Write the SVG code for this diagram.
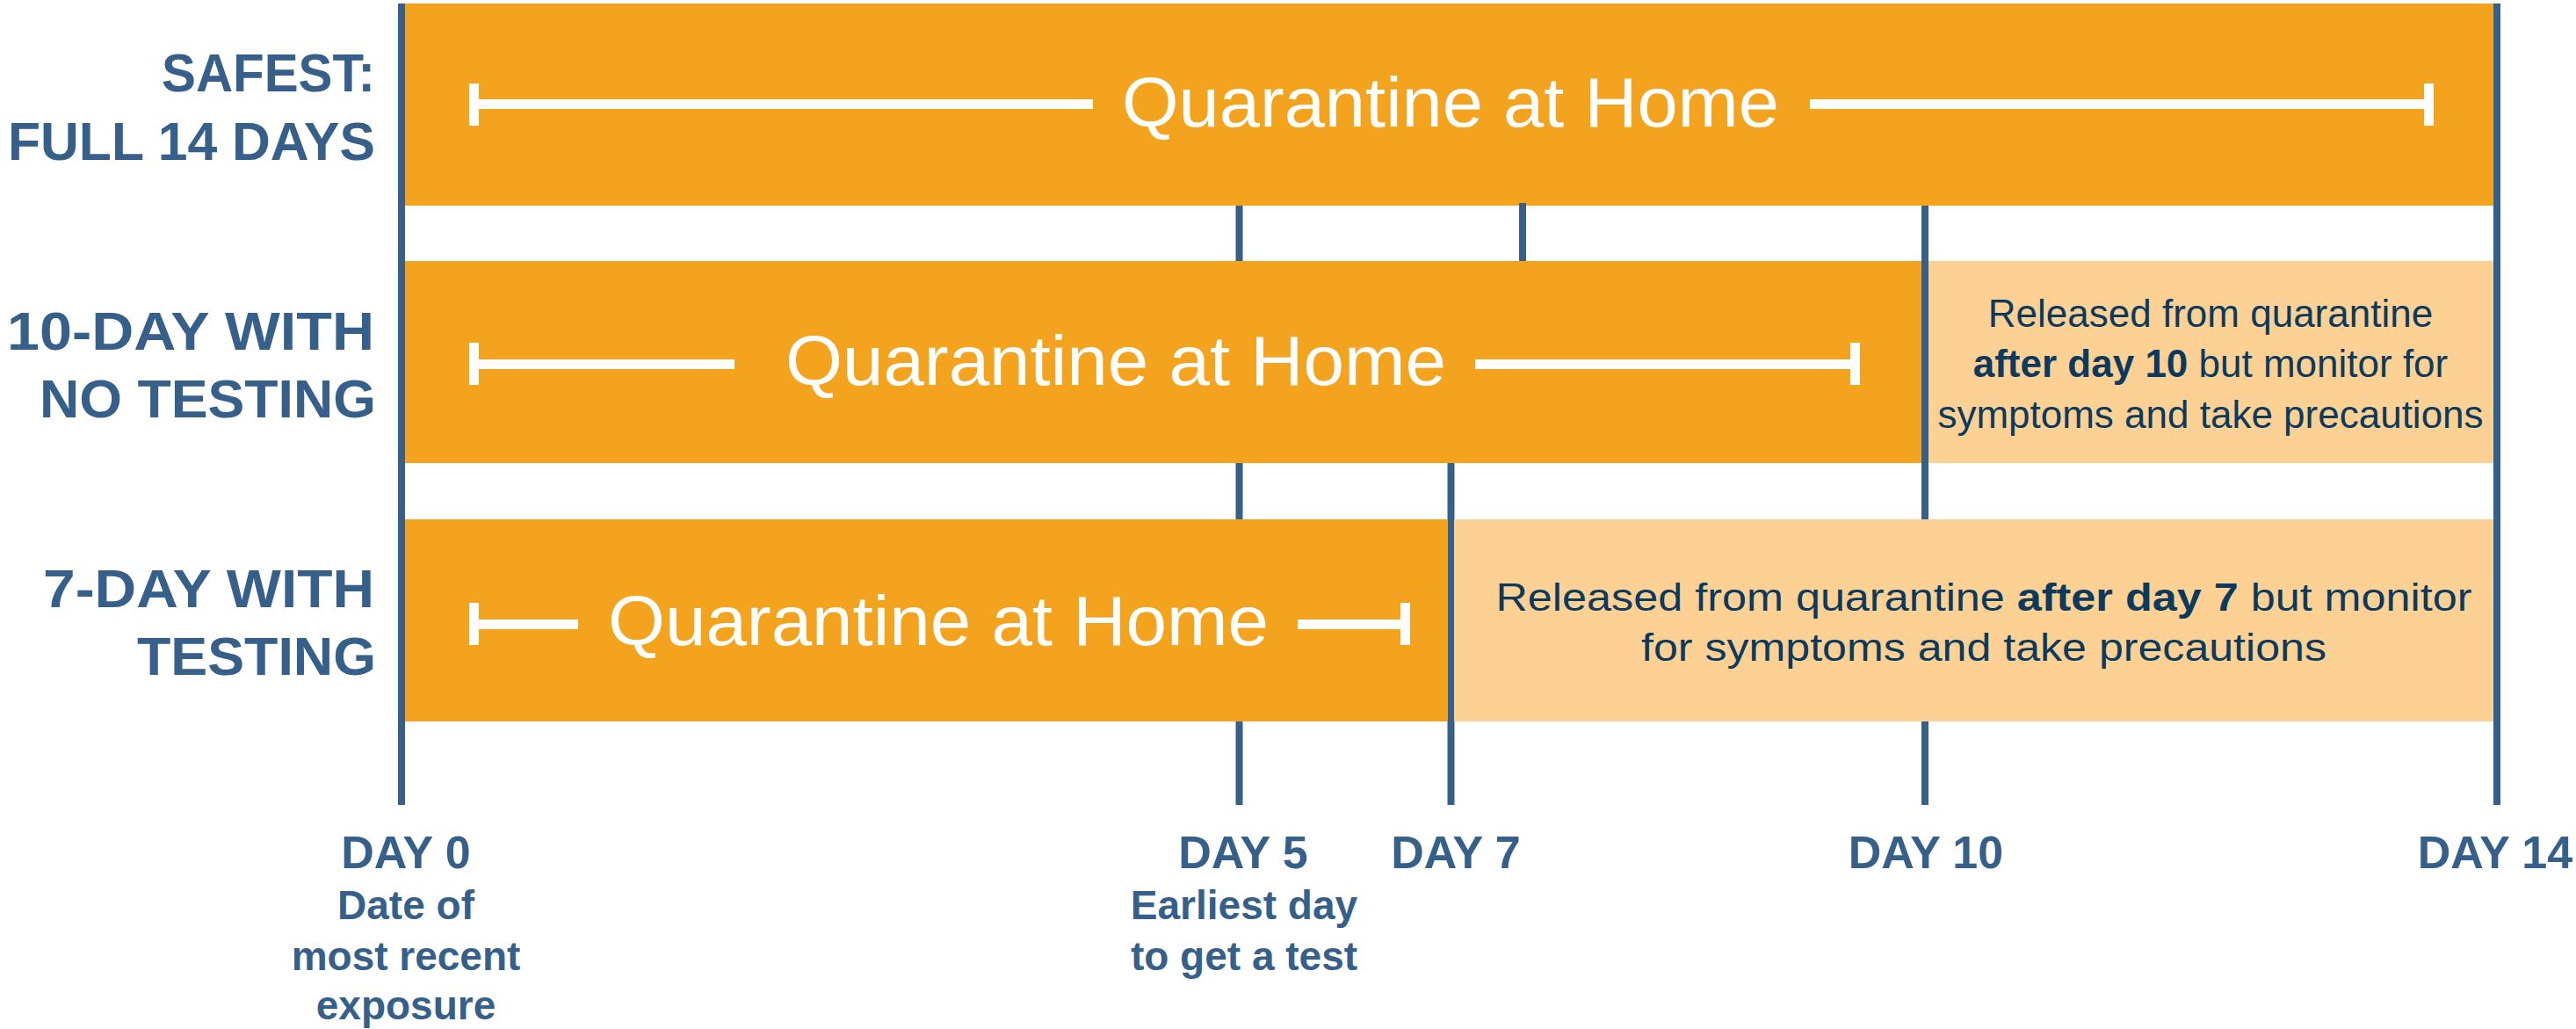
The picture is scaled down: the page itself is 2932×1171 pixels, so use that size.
<svg xmlns="http://www.w3.org/2000/svg" width="2932" height="1171" viewBox="0 0 2932 1171">
<style>
.bg{fill:#ffffff}
.q{fill:#F4A31F}
.lt{fill:#FDD093}
.ax{stroke:#365F8A;stroke-width:8;fill:none}
.br{fill:#ffffff}
.rowlbl{font-family:"Liberation Sans",Arial,sans-serif;font-weight:bold;font-size:62px;fill:#365F8A;text-anchor:end}
.qt{font-family:"Liberation Sans",Arial,sans-serif;font-size:80px;fill:#ffffff}
.rel{font-family:"Liberation Sans",Arial,sans-serif;font-size:44px;fill:#0B3A5E;text-anchor:middle}
.rel .b{font-weight:bold}
.day{font-family:"Liberation Sans",Arial,sans-serif;font-weight:bold;font-size:52px;fill:#365F8A;text-anchor:middle}
.sub{font-family:"Liberation Sans",Arial,sans-serif;font-weight:bold;font-size:46px;fill:#365F8A;text-anchor:middle}
</style>
<rect class="bg" x="0" y="0" width="2932" height="1171"/>

<g id="connectors">
  <line class="ax" x1="457" y1="4" x2="457" y2="916"/>
  <line class="ax" x1="1410.5" y1="234" x2="1410.5" y2="916"/>
  <line class="ax" x1="1651.5" y1="527" x2="1651.5" y2="916"/>
  <line class="ax" x1="2191" y1="234" x2="2191" y2="916"/>
  <line class="ax" x1="2842" y1="4" x2="2842" y2="916"/>
</g>

<g id="row-labels">
  <text class="rowlbl" x="427" y="104" textLength="243" lengthAdjust="spacingAndGlyphs">SAFEST:</text>
  <text class="rowlbl" x="427" y="182" textLength="418" lengthAdjust="spacingAndGlyphs">FULL 14 DAYS</text>
  <text class="rowlbl" x="426" y="398" textLength="418" lengthAdjust="spacingAndGlyphs">10-DAY WITH</text>
  <text class="rowlbl" x="428" y="475" textLength="383" lengthAdjust="spacingAndGlyphs">NO TESTING</text>
  <text class="rowlbl" x="426" y="691" textLength="377" lengthAdjust="spacingAndGlyphs">7-DAY WITH</text>
  <text class="rowlbl" x="428" y="768" textLength="272" lengthAdjust="spacingAndGlyphs">TESTING</text>
</g>

<g id="row-14day">
  <rect class="q" x="461" y="4" width="2377" height="230"/>
  <rect class="br" x="534" y="95" width="11" height="48"/>
  <rect class="br" x="545" y="113" width="699" height="11"/>
  <rect class="br" x="2060" y="113" width="700" height="11"/>
  <rect class="br" x="2759" y="95" width="11" height="48"/>
  <text class="qt" x="1277" y="144" textLength="748" lengthAdjust="spacingAndGlyphs">Quarantine at Home</text>
</g>

<g id="row-10day">
  <rect class="q" x="461" y="297" width="1726" height="230"/>
  <rect class="lt" x="2195" y="297" width="643" height="230"/>
  <rect class="br" x="534" y="390" width="11" height="48"/>
  <rect class="br" x="545" y="409" width="291" height="11"/>
  <rect class="br" x="1679" y="409" width="428" height="11"/>
  <rect class="br" x="2106" y="390" width="11" height="48"/>
  <text class="qt" x="894" y="438" textLength="752" lengthAdjust="spacingAndGlyphs">Quarantine at Home</text>
  <text class="rel" x="2516" y="372">Released from quarantine</text>
  <text class="rel" x="2516" y="429"><tspan class="b">after day 10</tspan> but monitor for</text>
  <text class="rel" x="2516" y="487">symptoms and take precautions</text>
</g>

<g id="row-7day">
  <rect class="q" x="461" y="591" width="1187" height="230"/>
  <rect class="lt" x="1655" y="591" width="1183" height="230"/>
  <rect class="br" x="534" y="686" width="11" height="48"/>
  <rect class="br" x="545" y="705" width="113" height="11"/>
  <rect class="br" x="1477" y="705" width="118" height="11"/>
  <rect class="br" x="1594" y="686" width="11" height="48"/>
  <text class="qt" x="692" y="734" textLength="752" lengthAdjust="spacingAndGlyphs">Quarantine at Home</text>
  <text class="rel" x="2258" y="695" textLength="1111" lengthAdjust="spacingAndGlyphs">Released from quarantine <tspan class="b">after day 7</tspan> but monitor</text>
  <text class="rel" x="2258" y="752" textLength="780" lengthAdjust="spacingAndGlyphs">for symptoms and take precautions</text>
</g>

<g id="gap-tick">
  <line class="ax" x1="1733" y1="231" x2="1733" y2="297"/>
</g>

<g id="day0">
  <text class="day" x="462" y="988">DAY 0</text>
  <text class="sub" x="462" y="1046">Date of</text>
  <text class="sub" x="462" y="1104">most recent</text>
  <text class="sub" x="462" y="1160">exposure</text>
</g>
<g id="day5">
  <text class="day" x="1415" y="988">DAY 5</text>
  <text class="sub" x="1416" y="1046">Earliest day</text>
  <text class="sub" x="1416" y="1104">to get a test</text>
</g>
<g id="day7">
  <text class="day" x="1657" y="988">DAY 7</text>
</g>
<g id="day10">
  <text class="day" x="2192" y="988">DAY 10</text>
</g>
<g id="day14">
  <text class="day" x="2840" y="988">DAY 14</text>
</g>
</svg>
